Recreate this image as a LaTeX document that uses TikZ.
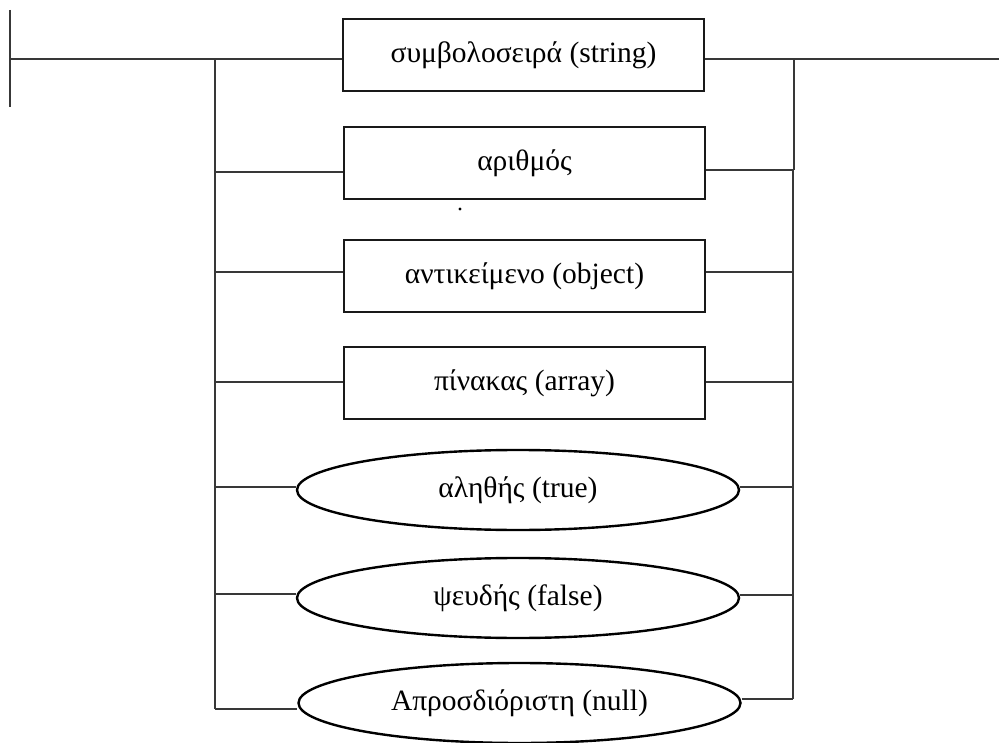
\documentclass[tikz,border=0pt]{standalone}
\usepackage{fontspec}
\setmainfont{Liberation Serif}
\usetikzlibrary{shapes.geometric}
\begin{document}
\begin{tikzpicture}[x=1pt,y=-1pt,
  wire/.style={draw=black!78, line width=1.3pt},
  tbox/.style={draw=black!90, line width=1.5pt, minimum width=361pt, minimum height=72pt,
    inner sep=0pt, font=\fontsize{29.5}{31}\selectfont},
  oval/.style={ellipse, draw=black, line width=2.4pt, minimum width=442pt, minimum height=80pt,
    inner sep=0pt, font=\fontsize{29.5}{31}\selectfont}]
\useasboundingbox (0,0) rectangle (999,743);

% value alternatives
\node[tbox]  (str) at (523.5,55)  {συμβολοσειρά (string)};
\node[tbox]  (num) at (524.5,163) {αριθμός};
\node[tbox]  (obj) at (524.5,276) {αντικείμενο (object)};
\node[tbox]  (arr) at (524.5,383) {πίνακας (array)};
\node[oval]  (tru) at (518,490)   {αληθής (true)};
\node[oval]  (fls) at (518,598)   {ψευδής (false)};
\node[oval]  (nul) at (519.5,703) {Απροσδιόριστη (null)};

% entry and exit points
\coordinate (bt) at (10,10);
\coordinate (bb) at (10,107);
\coordinate (s)  at (10,59);
\coordinate (e)  at (999,59);
\coordinate (jl) at (215,59);
\coordinate (jr) at (794,59);

% left branch points
\coordinate (l2) at (215,172);
\coordinate (l3) at (215,272);
\coordinate (l4) at (215,382);
\coordinate (l5) at (215,487);
\coordinate (l6) at (215,594);
\coordinate (l7) at (215,709);

% right merge points
\coordinate (r2) at (794,170);
\coordinate (q2) at (793,170);
\coordinate (r3) at (793,272);
\coordinate (r4) at (793,382);
\coordinate (r5) at (793,487);
\coordinate (r6) at (793,595);
\coordinate (r7) at (793,699);

\draw[wire] (bt) -- (bb);
\draw[wire] (s) -- (s -| str.west);
\draw[wire] (e -| str.east) -- (e);
\draw[wire] (jl) -- (l7);
\draw[wire] (jr) -- (r2);
\draw[wire] (q2) -- (r7);

\draw[wire] (l2) -- (l2 -| num.west);
\draw[wire] (l3) -- (l3 -| obj.west);
\draw[wire] (l4) -- (l4 -| arr.west);
\draw[wire] (l5) -- (l5 -| tru.west);
\draw[wire] (l6) -- (l6 -| fls.west);
\draw[wire] (l7) -- (l7 -| nul.west);

\draw[wire] (r2 -| num.east) -- (r2);
\draw[wire] (r3 -| obj.east) -- (r3);
\draw[wire] (r4 -| arr.east) -- (r4);
\draw[wire] (r5 -| tru.east) -- (r5);
\draw[wire] (r6 -| fls.east) -- (r6);
\draw[wire] (r7 -| nul.east) -- (r7);

% stray mark under the number box
\fill (460,209) circle (1.7);
\end{tikzpicture}
\end{document}
